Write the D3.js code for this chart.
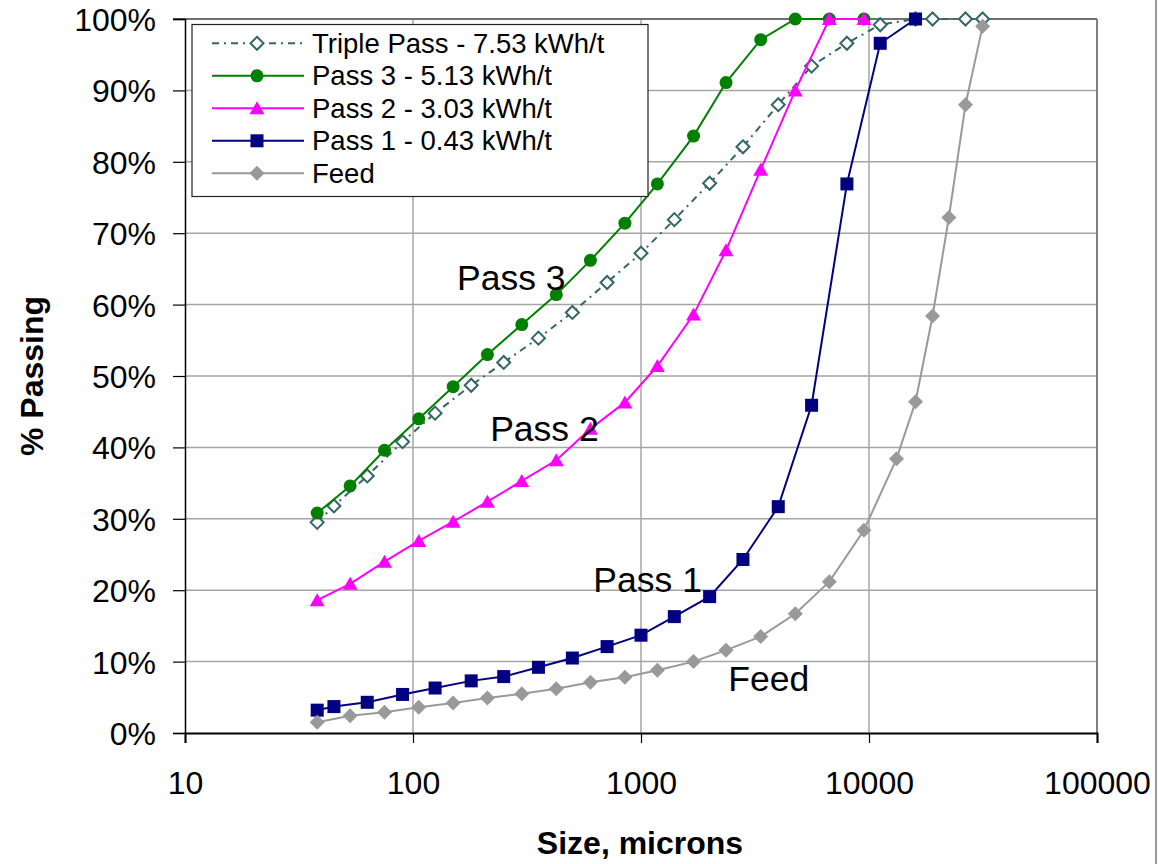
<!DOCTYPE html>
<html>
<head>
<meta charset="utf-8">
<script src="https://cdn.jsdelivr.net/npm/d3@7/dist/d3.min.js"></script>
<style>
  html, body { margin: 0; padding: 0; background: #fff; }
  svg { display: block; font-family: "Liberation Sans", Arial, sans-serif; }
</style>
</head>
<body>
<svg id="chart" width="1159" height="864"></svg>
<script>
// ---- Data ----
const sizesFeed   = [38,53,75,106,150,212,300,425,600,850,1180,1700,2360,3350,4750,6700,9500,13200,16000,19000,22400,26500,31500];
const feedValues  = [1.5,2.4,2.9,3.6,4.2,4.9,5.5,6.2,7.1,7.8,8.8,10.0,11.6,13.5,16.7,21.2,28.4,38.4,46.4,58.4,72.2,88.0,99.0];

const sizesP23    = [38,53,75,106,150,212,300,425,600,850,1180,1700,2360,3350,4750,6700,9500];
const pass3Values = [30.8,34.6,39.6,44.0,48.5,53.0,57.2,61.4,66.2,71.4,76.9,83.6,91.1,97.1,100,100,100];
const pass2Values = [18.6,20.9,24.0,26.9,29.6,32.4,35.3,38.2,42.6,46.3,51.4,58.6,67.6,78.9,90.0,100,100];

const sizesP1     = [38,45,63,90,125,180,250,355,500,710,1000,1400,2000,2800,4000,5600,8000,11200,16000];
const pass1Values = [3.2,3.7,4.3,5.4,6.3,7.3,7.9,9.2,10.5,12.1,13.7,16.3,19.1,24.3,31.7,45.9,76.9,96.6,100];

const sizesTriple  = [38,45,63,90,125,180,250,355,500,710,1000,1400,2000,2800,4000,5600,8000,11200,16000,19000,26500,31500];
const tripleValues = [29.5,31.8,36.0,40.8,44.8,48.7,51.9,55.3,58.9,63.1,67.2,71.9,77.0,82.1,88.0,93.4,96.6,99.2,100,100,100,100];

const seriesNames = ["Triple Pass - 7.53 kWh/t","Pass 3 - 5.13 kWh/t","Pass 2 - 3.03 kWh/t","Pass 1 - 0.43 kWh/t","Feed"];
const xTicks = [10,100,1000,10000,100000];
const yTicks = [0,0.1,0.2,0.3,0.4,0.5,0.6,0.7,0.8,0.9,1.0];
const annotationText  = ["Pass 3","Pass 2","Pass 1","Feed"];
const annotationSize  = [156,218,618,2415];
const annotationValue = [62.1,40.9,19.7,5.9];

// ---- Layout ----
const svg = d3.select("#chart");
const L = 185, R = 1097, T = 19, B = 733;
const x = d3.scaleLog().domain([10,100000]).range([L,R]);
const y = d3.scaleLinear().domain([0,1]).range([B,T]);

// chart border right edge
svg.append("line").attr("x1",1156).attr("x2",1156).attr("y1",0).attr("y2",864)
  .attr("stroke","#9a9a9a").attr("stroke-width",2);

// gridlines
const g = svg.append("g");
g.selectAll(".hg").data(yTicks.slice(1)).enter().append("line")
  .attr("x1",L).attr("x2",R).attr("y1",d=>y(d)).attr("y2",d=>y(d))
  .attr("stroke","#a6a6a6").attr("stroke-width",1.5);
g.selectAll(".vg").data(xTicks.slice(1)).enter().append("line")
  .attr("x1",d=>x(d)).attr("x2",d=>x(d)).attr("y1",T).attr("y2",B)
  .attr("stroke","#a6a6a6").attr("stroke-width",1.5);
g.append("line").attr("x1",L-12).attr("x2",R).attr("y1",T).attr("y2",T).attr("stroke","#707070").attr("stroke-width",2);
g.append("line").attr("x1",R).attr("x2",R).attr("y1",T).attr("y2",B).attr("stroke","#808080").attr("stroke-width",2);

// axes
const yAxis = d3.axisLeft(y).tickValues(yTicks).tickFormat(d3.format(".0%")).tickSize(12).tickPadding(17);
const yg = svg.append("g").attr("transform",`translate(${L},0)`).call(yAxis);
yg.select(".domain").attr("stroke","#000").attr("stroke-width",1.5);
yg.selectAll(".tick line").attr("stroke","#000").attr("stroke-width",1.2);
yg.selectAll("text").attr("font-size",32).attr("fill","#000").attr("dy","0.36em")
  .attr("font-family","Liberation Sans, Arial, sans-serif");

const xAxis = d3.axisBottom(x).tickValues(xTicks).tickFormat(d3.format("d")).tickSize(10).tickPadding(28);
const xg = svg.append("g").attr("transform",`translate(0,${B})`).call(xAxis);
xg.select(".domain").attr("stroke","#000").attr("stroke-width",2);
xg.selectAll(".tick line").attr("stroke","#000").attr("stroke-width",1.2);
xg.selectAll("text").attr("font-size",32).attr("fill","#000")
  .attr("font-family","Liberation Sans, Arial, sans-serif");

// axis titles
svg.append("text").attr("x",640).attr("y",854).attr("text-anchor","middle")
  .attr("font-size",32).attr("font-weight","bold").text("Size, microns");
svg.append("text").attr("transform","translate(43,376) rotate(-90)").attr("text-anchor","middle")
  .attr("font-size",32).attr("font-weight","bold").text("% Passing");

// ---- series ----
const series = [
  {name:seriesNames[0], sizes:sizesTriple, vals:tripleValues, color:"#336666", marker:"diamondOpen", dash:"7,5,2,5"},
  {name:seriesNames[1], sizes:sizesP23,    vals:pass3Values,  color:"#008000", marker:"circle"},
  {name:seriesNames[2], sizes:sizesP23,    vals:pass2Values,  color:"#ff00ff", marker:"triangle"},
  {name:seriesNames[3], sizes:sizesP1,     vals:pass1Values,  color:"#000080", marker:"square"},
  {name:seriesNames[4], sizes:sizesFeed,   vals:feedValues,   color:"#999999", marker:"diamond"}
];

function drawMarker(sel, type, color) {
  if (type === "circle") {
    sel.append("circle").attr("r",6.5).attr("fill",color);
  } else if (type === "square") {
    sel.append("rect").attr("x",-6.5).attr("y",-6.5).attr("width",13).attr("height",13).attr("fill",color);
  } else if (type === "triangle") {
    sel.append("path").attr("d","M0,-7 L7.5,6 L-7.5,6 Z").attr("fill",color);
  } else if (type === "diamond") {
    sel.append("path").attr("d","M0,-7.5 L7.5,0 L0,7.5 L-7.5,0 Z").attr("fill",color);
  } else if (type === "diamondOpen") {
    sel.append("path").attr("d","M0,-6.5 L6.5,0 L0,6.5 L-6.5,0 Z").attr("fill","#fff")
      .attr("stroke",color).attr("stroke-width",2);
  }
}

const line = d3.line().x(d=>x(d[0])).y(d=>y(d[1]/100));
const plot = svg.append("g");
series.forEach(s => {
  const pts = s.sizes.map((v,i)=>[v, s.vals[i]]);
  const sg = plot.append("g");
  sg.append("path").datum(pts).attr("d",line).attr("fill","none")
    .attr("stroke",s.color).attr("stroke-width",2)
    .attr("stroke-dasharray", s.dash || null);
  sg.selectAll("g.m").data(pts).enter().append("g")
    .attr("transform",d=>`translate(${x(d[0])},${y(d[1]/100)})`)
    .each(function(){ drawMarker(d3.select(this), s.marker, s.color); });
});

// annotations
svg.selectAll("text.ann").data(annotationText).enter().append("text")
  .attr("x",(d,i)=>x(annotationSize[i])).attr("y",(d,i)=>y(annotationValue[i]/100))
  .attr("font-size",35.5).attr("fill","#000").text(d=>d);

// ---- legend ----
const lg = svg.append("g");
lg.append("rect").attr("x",192).attr("y",24.5).attr("width",456).attr("height",172)
  .attr("fill","#fff").attr("stroke","#222").attr("stroke-width",1.2);
series.forEach((s,i) => {
  const cy = 43.3 + i*32.5;
  lg.append("line").attr("x1",212).attr("x2",304).attr("y1",cy).attr("y2",cy)
    .attr("stroke",s.color).attr("stroke-width",2).attr("stroke-dasharray", s.dash || null);
  const m = lg.append("g").attr("transform",`translate(257,${cy})`);
  drawMarker(m, s.marker, s.color);
  lg.append("text").attr("x",312).attr("y",cy+9.5).attr("font-size",27.5).attr("fill","#000").text(s.name);
});
</script>
</body>
</html>
